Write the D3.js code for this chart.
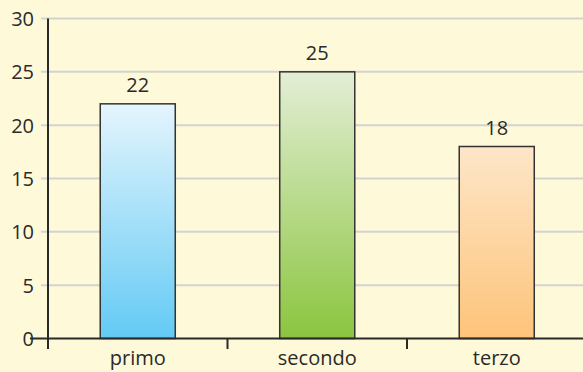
<!DOCTYPE html>
<html><head><meta charset="utf-8">
<script src="https://cdn.jsdelivr.net/npm/d3@7"></script>
<style>html,body{margin:0;padding:0;background:#fef9d8;}svg{display:block;}</style>
</head><body>
<svg id="c" width="583" height="372"></svg>
<script>
const categories = ["primo", "secondo", "terzo"];
const values = [22, 25, 18];
const yTicks = [0, 5, 10, 15, 20, 25, 30];
const gradTop = ["#e4f5fd", "#e3eed5", "#fde6c8"];
const gradBottom = ["#63caf4", "#8bc53f", "#fdc47a"];

const svg = d3.select("#c");
const W = 583, H = 372;
svg.append("rect").attr("width", W).attr("height", H).attr("fill", "#fef9d8");

const x = d3.scaleBand().domain(categories).range([48, 586.5]).paddingInner(0.582).paddingOuter(0.291);
const y = d3.scaleLinear().domain([0, 30]).range([338.5, 18.5]);

const defs = svg.append("defs");
categories.forEach((c, i) => {
  const g = defs.append("linearGradient").attr("id", "g" + i).attr("x1", 0).attr("y1", 0).attr("x2", 0).attr("y2", 1);
  g.append("stop").attr("offset", 0).attr("stop-color", gradTop[i]);
  g.append("stop").attr("offset", 1).attr("stop-color", gradBottom[i]);
});

const font = "'Open Sans', 'DejaVu Sans', sans-serif";

// gridlines
svg.append("g").selectAll("line").data(yTicks.filter(d => d > 0)).join("line")
  .attr("x1", 41).attr("x2", W).attr("y1", d => y(d)).attr("y2", d => y(d))
  .attr("stroke", "#d3d3d0").attr("stroke-width", 2);

// y axis
const yAxis = d3.axisLeft(y).tickValues(yTicks).tickSize(0).tickPadding(14);
const ya = svg.append("g").attr("transform", "translate(48,0)").call(yAxis);
ya.select(".domain").remove();
ya.selectAll("text").attr("font-family", font).attr("font-size", 20).attr("fill", "#2a2a2a").attr("dy", "0.35em");
svg.append("line").attr("x1", 48).attr("x2", 48).attr("y1", y(30)).attr("y2", 349)
  .attr("stroke", "#2a2a2a").attr("stroke-width", 2);

// bars
svg.append("g").selectAll("rect").data(values).join("rect")
  .attr("x", (d, i) => x(categories[i]))
  .attr("y", d => y(d))
  .attr("width", x.bandwidth())
  .attr("height", d => y(0) - y(d))
  .attr("fill", (d, i) => `url(#g${i})`)
  .attr("stroke", "#333").attr("stroke-width", 1.5);

// value labels
svg.append("g").selectAll("text").data(values).join("text")
  .attr("x", (d, i) => x(categories[i]) + x.bandwidth() / 2)
  .attr("y", d => y(d) - 12)
  .attr("text-anchor", "middle")
  .attr("font-family", font).attr("font-size", 20).attr("fill", "#2a2a2a")
  .text(d => d);

// x axis line
svg.append("line").attr("x1", 30).attr("x2", W).attr("y1", y(0)).attr("y2", y(0))
  .attr("stroke", "#2a2a2a").attr("stroke-width", 2);
// band boundary ticks
const step = x.step();
svg.append("g").selectAll("line").data(categories.slice(1)).join("line")
  .attr("x1", d => x(d) - x.bandwidth() * 0 - (step - x.bandwidth()) / 2)
  .attr("x2", d => x(d) - (step - x.bandwidth()) / 2)
  .attr("y1", y(0)).attr("y2", 349)
  .attr("stroke", "#2a2a2a").attr("stroke-width", 2);

// category labels
svg.append("g").selectAll("text").data(categories).join("text")
  .attr("x", d => x(d) + x.bandwidth() / 2)
  .attr("y", 365)
  .attr("text-anchor", "middle")
  .attr("font-family", font).attr("font-size", 20).attr("fill", "#2a2a2a")
  .text(d => d);
</script>
</body></html>
